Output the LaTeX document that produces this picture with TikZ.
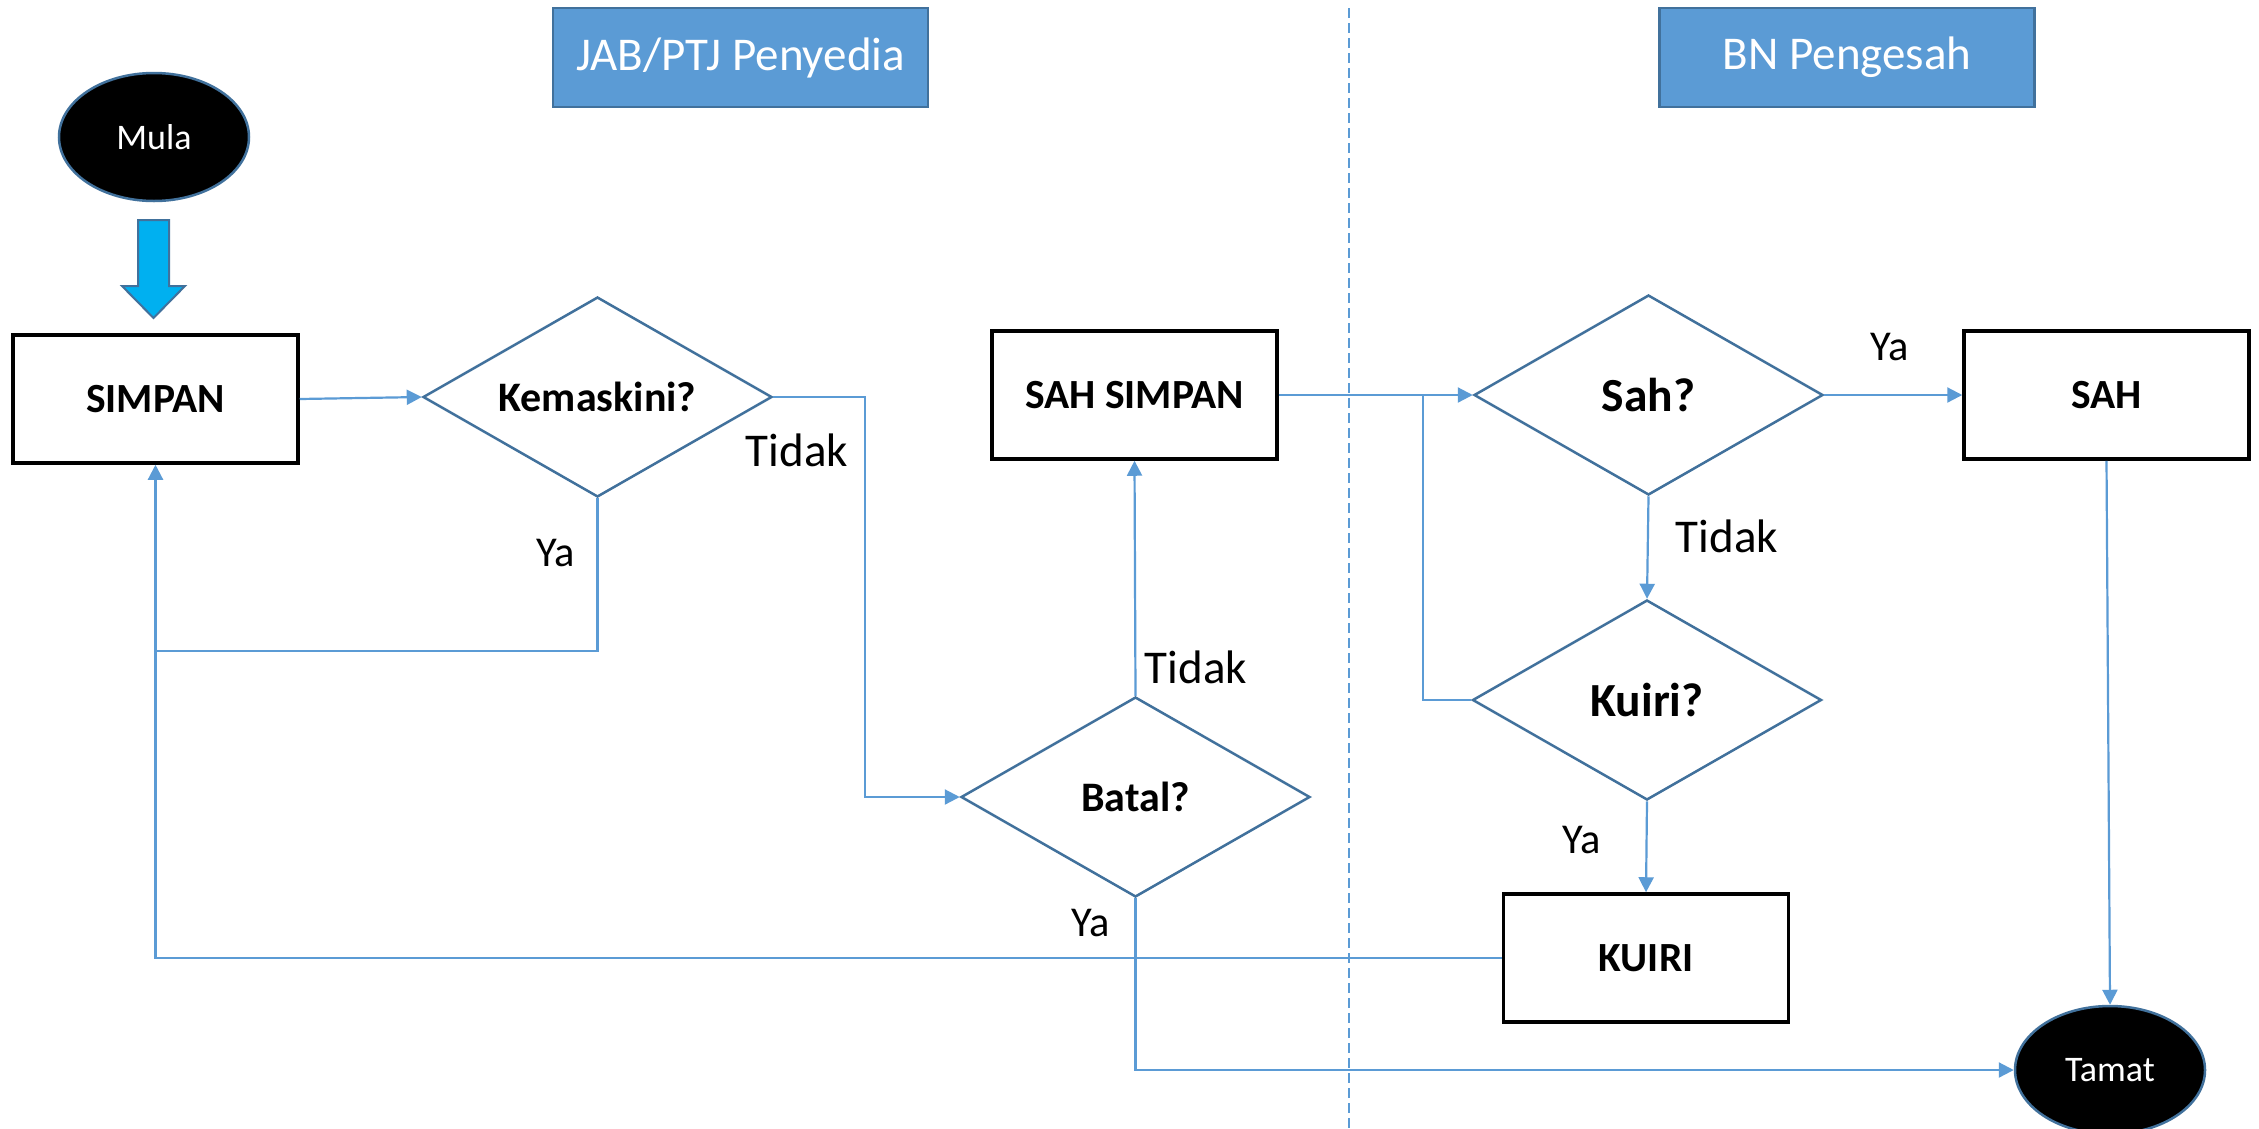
\documentclass[tikz,border=0pt]{standalone}
\usepackage{fontspec}
\setmainfont{Carlito}
\usetikzlibrary{shapes.geometric,arrows.meta}
\definecolor{lineblue}{HTML}{5B9BD5}
\definecolor{darkblue}{HTML}{41719C}
\definecolor{cyanfill}{HTML}{00B0F0}
\begin{document}
\begin{tikzpicture}[x=1pt,y=-1pt,
  box/.style={draw=black, line width=3.5pt, minimum width=285pt, minimum height=128pt, inner sep=0pt, font=\bfseries\fontsize{41.5}{50}\selectfont},
  dec/.style={diamond, draw=darkblue, line width=2.5pt, aspect=1.75, minimum width=349pt, minimum height=200pt, inner sep=0pt, font=\bfseries\fontsize{42}{50}\selectfont},
  term/.style={ellipse, draw=darkblue, fill=black, line width=2.5pt, text=white, minimum width=190pt, minimum height=128pt, inner sep=0pt, font=\fontsize{36}{43}\selectfont},
  header/.style={draw=darkblue, fill=lineblue, line width=2.5pt, text=white, minimum width=375pt, minimum height=99pt, inner sep=0pt, font=\fontsize{47}{56}\selectfont},
  lbl/.style={inner sep=0pt, font=\fontsize{42.5}{51}\selectfont},
  lblt/.style={inner sep=0pt, font=\fontsize{47}{56}\selectfont},
  conn/.style={draw=lineblue, line width=2.2pt},
  arr/.style={conn, -{Triangle[length=15pt,width=15pt]}}
]
\useasboundingbox (0,0) rectangle (2259,1128);
\fill[white] (0,0) rectangle (2259,1128);

% lane divider
\draw[lineblue, line width=1.5pt, dash pattern=on 10pt off 5pt] (1349,8) -- (1349,1128);

% headers
\node[header] (h1) at (740.5,57.5) {JAB/PTJ Penyedia};
\node[header] (h2) at (1847,57.5) {BN Pengesah};

% terminals
\node[term] (mula) at (154,137) {Mula};
\node[term] (tamat) at (2110,1070) {Tamat};

% block arrow
\draw[fill=cyanfill, draw=darkblue, line width=2pt, line join=miter]
  (138,220) -- (169,220) -- (169,286) -- (185,286) -- (153.5,318) -- (122,286) -- (138,286) -- cycle;

% process boxes
\node[box] (simpan) at (155.5,399) {SIMPAN};
\node[box] (sahsimpan) at (1134.5,395) {SAH SIMPAN};
\node[box] (sah) at (2106.5,395) {SAH};
\node[box] (kuiri) at (1646,958) {KUIRI};

% decisions
\node[dec] (kem) at (597.5,397) {Kemaskini?};
\node[dec] (batal) at (1135.5,797) {Batal?};
\node[dec] (sahq) at (1648.5,395) {\fontsize{47.5}{57}\selectfont Sah?};
\node[dec] (kuiriq) at (1647,700) {\fontsize{47.5}{57}\selectfont Kuiri?};

% helper points
\coordinate (kt) at (865,397);
\coordinate (j1) at (155.5,651);
\coordinate (kl) at (1423,395);

% connectors
\draw[arr] (simpan.east) -- (kem.west);
\draw[arr] (kem.east) -- (kt) |- (batal.west);
\draw[conn] (kem.south) |- (j1);
\draw[arr] (kuiri.west) -| (simpan.south);
\draw[arr] (batal.north) -- (sahsimpan.south);
\draw[arr] (batal.south) |- (tamat.west);
\draw[arr] (sahsimpan.east) -- (sahq.west);
\draw[conn] (kuiriq.west) -| (kl);
\draw[arr] (sahq.south) -- (kuiriq.north);
\draw[arr] (sahq.east) -- (sah.west);
\draw[arr] (kuiriq.south) -- (kuiri.north);
\draw[arr] (sah.south) -- (tamat.north);

% labels
\node[lblt] (l1) at (797,450) {Tidak};
\node[lbl] (l2) at (556,553) {Ya};
\node[lblt] (l3) at (1196,667) {Tidak};
\node[lbl] (l4) at (1091,923) {Ya};
\node[lbl] (l5) at (1890,347) {Ya};
\node[lblt] (l6) at (1727,536) {Tidak};
\node[lbl] (l7) at (1582,840) {Ya};
\end{tikzpicture}
\end{document}
